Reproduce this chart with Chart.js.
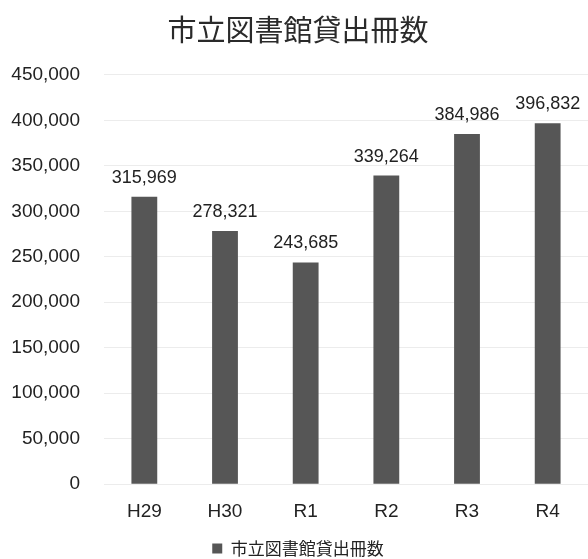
<!DOCTYPE html>
<html><head><meta charset="utf-8">
<script src="https://cdn.jsdelivr.net/npm/chart.js@4/dist/chart.umd.min.js"></script>
<style>html,body{margin:0;padding:0;background:#fff}#wrap{width:588px;height:559px}</style>
</head><body><div id="wrap"><canvas id="c" width="588" height="559"></canvas></div>
<script>
const categories = ["H29","H30","R1","R2","R3","R4"];
const loans = [315969, 278321, 243685, 339264, 384986, 396832];
const seriesName = "市立図書館貸出冊数";
const chartTitle = "市立図書館貸出冊数";

const fontFam = "'Liberation Sans','Noto Sans CJK JP',sans-serif";
const labelPlugin = {
  id: 'vlabels',
  afterDatasetsDraw(chart) {
    const ctx = chart.ctx;
    const meta = chart.getDatasetMeta(0);
    ctx.save();
    ctx.font = "18px " + fontFam;
    ctx.fillStyle = "#222";
    ctx.textAlign = "center";
    ctx.textBaseline = "bottom";
    meta.data.forEach((el, i) => {
      ctx.fillText(loans[i].toLocaleString('en-US'), el.x, el.y - 10);
    });
    ctx.restore();
  }
};

new Chart(document.getElementById('c'), {
  type: 'bar',
  data: {
    labels: categories,
    datasets: [{
      label: seriesName,
      data: loans,
      backgroundColor: '#565656',
      borderWidth: 0,
      categoryPercentage: 1.0,
      barPercentage: 0.32
    }]
  },
  options: {
    responsive: false,
    animation: false,
    layout: { padding: { left: 8, right: 0, top: 0, bottom: -8 } },
    plugins: {
      title: {
        display: true, text: chartTitle,
        font: { family: "'Noto Sans CJK JP',sans-serif", size: 29, weight: 'normal' },
        color: '#2a2a2a', padding: { top: 13, bottom: 27 }
      },
      legend: {
        display: true, position: 'bottom',
        labels: {
          boxWidth: 10, boxHeight: 10, color: '#222', padding: 1,
          font: { family: "'Noto Sans CJK JP',sans-serif", size: 17 }
        }
      },
      tooltip: { enabled: false }
    },
    scales: {
      x: {
        grid: { display: false },
        border: { display: false },
        afterFit: s => { s.height += 8; },
        ticks: { color: '#222', font: { family: fontFam, size: 19 }, padding: 8 }
      },
      y: {
        min: 0, max: 450000,
        afterFit: s => { s.width = 96; },
        ticks: {
          stepSize: 50000, color: '#222', padding: 24,
          font: { family: fontFam, size: 19 },
          callback: v => v.toLocaleString('en-US')
        },
        grid: { color: '#ececec', drawTicks: false },
        border: { display: false }
      }
    }
  },
  plugins: [labelPlugin]
});
</script></body></html>
